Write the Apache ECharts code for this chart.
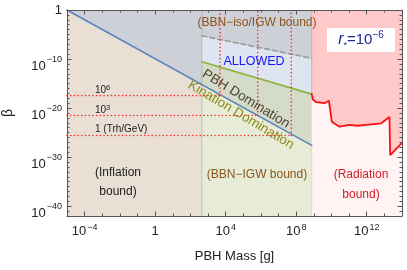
<!DOCTYPE html>
<html><head><meta charset="utf-8">
<script src="https://cdn.jsdelivr.net/npm/echarts@6/dist/echarts.min.js"></script>
<style>html,body{margin:0;padding:0;background:#fff}#c{width:407px;height:270px}</style>
</head><body><div id="c"></div>
<script>
// axis ranges (log10 units)
const massRange = [-5, 14];
const betaRange = [-42, 0];
const massTicks = [-4, 0, 4, 8, 12];
const betaTicks = [0, -10, -20, -30, -40];
const massMinor = [-5,-4,-3,-2,-1,0,1,2,3,4,5,6,7,8,9,10,11,12,13,14];
const betaMinor = Array.from({length: 43}, (_, i) => -i);
// region boundaries (log10 M [g], log10 beta)
const inflationEdgeM = 2.65;
const radiationEdgeM = 8.88;
const blueM = [-5, 8.88];
const blueB = [0, -27.6];
const dashedM = [2.65, 8.88];
const dashedB = [-5.25, -9.85];
const greenM = [2.65, 8.88];
const greenB = [-10.55, -17.15];
const redM = [8.88, 8.94, 9.13, 9.60, 9.85, 9.89, 10.02, 10.45, 11.02, 11.49, 11.97, 12.82, 13.29, 13.33, 14];
const redB = [-17.15, -18.2, -18.8, -19.0, -18.5, -19.4, -22.8, -23.8, -23.4, -23.6, -23.4, -23.1, -21.8, -29.6, -27.1];
// reheating temperature guides
const trhLabels = ['{b|10}{s|6}', '{b|10}{s|3}', '{b|1 (Trh/GeV)}'];
const trhM = [3.68, 5.82, 7.72];
const trhB = [-17.45, -21.5, -25.6];

const zip = (a, b) => a.map((v, i) => [v, b[i]]);
const blueAt = m => blueB[0] + (blueB[1] - blueB[0]) * (m - blueM[0]) / (blueM[1] - blueM[0]);
const bL = betaRange[0], bT = betaRange[1];
const blueEdge = blueAt(inflationEdgeM);
const redPts = zip(redM, redB);

const regions = [
  {pts: [[massRange[0], bT], [radiationEdgeM, bT], [radiationEdgeM, bL], [massRange[0], bL]], fill: '#cdd0d6'},
  {pts: [[blueM[0], blueB[0]], [inflationEdgeM, blueEdge], [inflationEdgeM, bL], [massRange[0], bL]], fill: '#e9dfd5'},
  {pts: [[dashedM[0], dashedB[0]], [dashedM[1], dashedB[1]], [greenM[1], greenB[1]], [greenM[0], greenB[0]]], fill: '#dde5f1'},
  {pts: [[greenM[0], greenB[0]], [greenM[1], greenB[1]], [radiationEdgeM, blueB[1]], [inflationEdgeM, blueEdge]], fill: '#d4dcc9'},
  {pts: [[inflationEdgeM, blueEdge], [radiationEdgeM, blueB[1]], [radiationEdgeM, bL], [inflationEdgeM, bL]], fill: '#e7ecd7'},
  {pts: [[radiationEdgeM, bT], [massRange[1], bT]].concat(redPts.slice().reverse()), fill: '#ffc9c9'},
  {pts: redPts.concat([[massRange[1], bL], [radiationEdgeM, bL]]), fill: '#fff3f3'}
];

const font = '"Liberation Sans", Arial, sans-serif';
const xRich = {
  b: {fontSize: 13, fontFamily: font, color: '#222', lineHeight: 16},
  s: {fontSize: 9, fontFamily: font, color: '#222', verticalAlign: 'top', lineHeight: 16, padding: [0, 0, 0, 1]}
};
const yRich = {
  one: {fontSize: 13, fontFamily: font, color: '#222', lineHeight: 16},
  b: {fontSize: 13, fontFamily: font, color: '#222', lineHeight: 15, verticalAlign: 'bottom'},
  s: {fontSize: 9, fontFamily: font, color: '#222', lineHeight: 28, verticalAlign: 'middle', padding: [0, 0, 0, 1]}
};
const fmtX = v => v === 0 ? '{b|1}' : '{b|10}{s|' + (v < 0 ? '−' : '') + Math.abs(v) + '}';
const fmtY = v => v === 0 ? '{one|1}' : '{b|10}{s|' + (v < 0 ? '−' : '') + Math.abs(v) + '}';

const lineSeries = (data, color, width, type, z) => ({
  type: 'line', data, showSymbol: false, symbol: 'none', silent: true, z: z || 5,
  lineStyle: {color, width, type: type || 'solid', cap: 'round'}, animation: false
});

const series = [{
  type: 'custom', silent: true, animation: false, z: 1,
  data: regions.map((r, i) => [i]),
  renderItem: (params, api) => {
    const r = regions[api.value(0)];
    return {type: 'polygon', shape: {points: r.pts.map(p => api.coord(p))}, style: {fill: r.fill, stroke: null}};
  },
  clip: true
}];
series.push(lineSeries([[radiationEdgeM, bT], [radiationEdgeM, greenB[1]]], '#f2a0a0', 1));
series.push(lineSeries([[inflationEdgeM, bT], [inflationEdgeM, bL]], 'rgba(150,130,110,0.35)', 1));
series.push(lineSeries([[radiationEdgeM, blueB[1]], [radiationEdgeM, bL]], 'rgba(200,200,170,0.6)', 1, [2, 2]));
series.push(lineSeries(zip(dashedM, dashedB), '#9a9a9a', 1.6, [5, 3]));
series.push(lineSeries(zip(greenM, greenB), '#8fb23b', 1.6));
series.push(lineSeries(zip(blueM, blueB), '#5a84ba', 1.6));
series.push(lineSeries(redPts, '#ff1010', 1.8));
trhM.forEach((m, i) => {
  series.push(lineSeries([[massRange[0], trhB[i]], [m, trhB[i]]], '#ff2a2a', 1.6, [0.1, 3.6], 6));
  series.push(lineSeries([[m, trhB[i]], [m, bT]], '#ff2a2a', 1.6, [0.1, 3.6], 6));
});

const axCol = '#555';
const xa = (position, len, vals, extra) => Object.assign({
  type: 'value', min: massRange[0], max: massRange[1], position, z: 10,
  axisLine: {show: true, onZero: false, lineStyle: {color: axCol, width: 1}},
  axisTick: {show: true, inside: true, length: len, customValues: vals, lineStyle: {color: axCol}},
  axisLabel: {show: false}, splitLine: {show: false}
}, extra || {});
const ya = (position, len, vals, extra) => Object.assign({
  type: 'value', min: betaRange[0], max: betaRange[1], position, z: 10,
  axisLine: {show: true, onZero: false, lineStyle: {color: axCol, width: 1}},
  axisTick: {show: true, inside: true, length: len, customValues: vals, lineStyle: {color: axCol}},
  axisLabel: {show: false}, splitLine: {show: false}
}, extra || {});

const option = {
  animation: false,
  grid: {left: 67, right: 5, top: 10, bottom: 54, containLabel: false, outerBoundsMode: 'none'},
  xAxis: [
    xa('bottom', 4.5, massTicks, {
      axisLabel: {customValues: massTicks, formatter: fmtX, rich: xRich, margin: 7},
      name: 'PBH Mass [g]', nameLocation: 'middle', nameGap: 34,
      nameTextStyle: {fontSize: 13, fontFamily: font, color: '#222'}}),
    xa('bottom', 2.5, massMinor, {axisLine: {show: false, onZero: false}}),
    xa('top', 4.5, massTicks),
    xa('top', 2.5, massMinor, {axisLine: {show: false, onZero: false}})
  ],
  yAxis: [
    ya('left', 4.5, betaTicks, {
      axisLabel: {customValues: betaTicks, formatter: fmtY, rich: yRich, margin: 5},
      name: 'β', nameLocation: 'middle', nameGap: 52, nameRotate: 90,
      nameTextStyle: {fontSize: 14, fontFamily: font, color: '#222'}}),
    ya('left', 2.5, betaMinor, {axisLine: {show: false, onZero: false}}),
    ya('right', 4.5, betaTicks),
    ya('right', 2.5, betaMinor, {axisLine: {show: false, onZero: false}})
  ],
  series,
  graphic: [
    {type: 'text', x: 257, y: 23, z: 100, style: {text: '(BBN−iso/IGW bound)', fill: '#8a5520', font: '12px ' + font, align: 'center', verticalAlign: 'middle'}},
    {type: 'text', x: 254, y: 62, z: 100, style: {text: 'ALLOWED', fill: '#1414ff', font: '12.5px ' + font, align: 'center', verticalAlign: 'middle'}},
    {type: 'text', x: 246, y: 99, rotation: -0.55, z: 100, style: {text: 'PBH Domination', fill: '#4e4230', font: '13.5px ' + font, align: 'center', verticalAlign: 'middle'}},
    {type: 'text', x: 241, y: 115, rotation: -0.54, z: 100, style: {text: 'Kination Domination', fill: '#8c8c1e', font: '13.5px ' + font, align: 'center', verticalAlign: 'middle'}},
    {type: 'text', x: 95, y: 90, z: 100, style: {text: trhLabels[0], align: 'left', verticalAlign: 'middle',
      rich: {b: {fontSize: 10, fontFamily: font, fill: '#222', lineHeight: 13}, s: {fontSize: 7.5, fontFamily: font, fill: '#222', verticalAlign: 'top', lineHeight: 13}}}},
    {type: 'text', x: 95, y: 110, z: 100, style: {text: trhLabels[1], align: 'left', verticalAlign: 'middle',
      rich: {b: {fontSize: 10, fontFamily: font, fill: '#222', lineHeight: 13}, s: {fontSize: 7.5, fontFamily: font, fill: '#222', verticalAlign: 'top', lineHeight: 13}}}},
    {type: 'text', x: 95, y: 129, z: 100, style: {text: trhLabels[2], align: 'left', verticalAlign: 'middle',
      rich: {b: {fontSize: 10, fontFamily: font, fill: '#222', lineHeight: 13}}}},
    {type: 'text', x: 118, y: 182, z: 100, style: {text: '(Inflation\nbound)', fill: '#222', font: '12px ' + font, align: 'center', verticalAlign: 'middle', lineHeight: 19}},
    {type: 'text', x: 257, y: 175, z: 100, style: {text: '(BBN−IGW bound)', fill: '#8a5520', font: '12px ' + font, align: 'center', verticalAlign: 'middle'}},
    {type: 'text', x: 361, y: 185, z: 100, style: {text: '(Radiation\nbound)', fill: '#d0202a', font: '12px ' + font, align: 'center', verticalAlign: 'middle', lineHeight: 20}},
    {type: 'rect', x: 327, y: 28, z: 99, shape: {width: 68, height: 24}, style: {fill: '#ffffff'}},
    {type: 'text', x: 361, y: 40, z: 100, style: {
      text: '{i|r}{sub|*}{n|=10}{sup|−6}', align: 'center', verticalAlign: 'middle',
      rich: {
        i: {fontSize: 16, fontStyle: 'italic', fontFamily: font, fill: '#1a2a90', lineHeight: 20},
        sub: {fontSize: 9, fontFamily: font, fill: '#1a2a90', verticalAlign: 'bottom', lineHeight: 20},
        n: {fontSize: 15, fontFamily: font, fill: '#1a2a90', lineHeight: 20},
        sup: {fontSize: 10, fontFamily: font, fill: '#1a2a90', verticalAlign: 'top', lineHeight: 20}
      }}}
  ]
};
const chart = echarts.init(document.getElementById('c'), null, {renderer: 'canvas'});
chart.setOption(option);
</script></body></html>
